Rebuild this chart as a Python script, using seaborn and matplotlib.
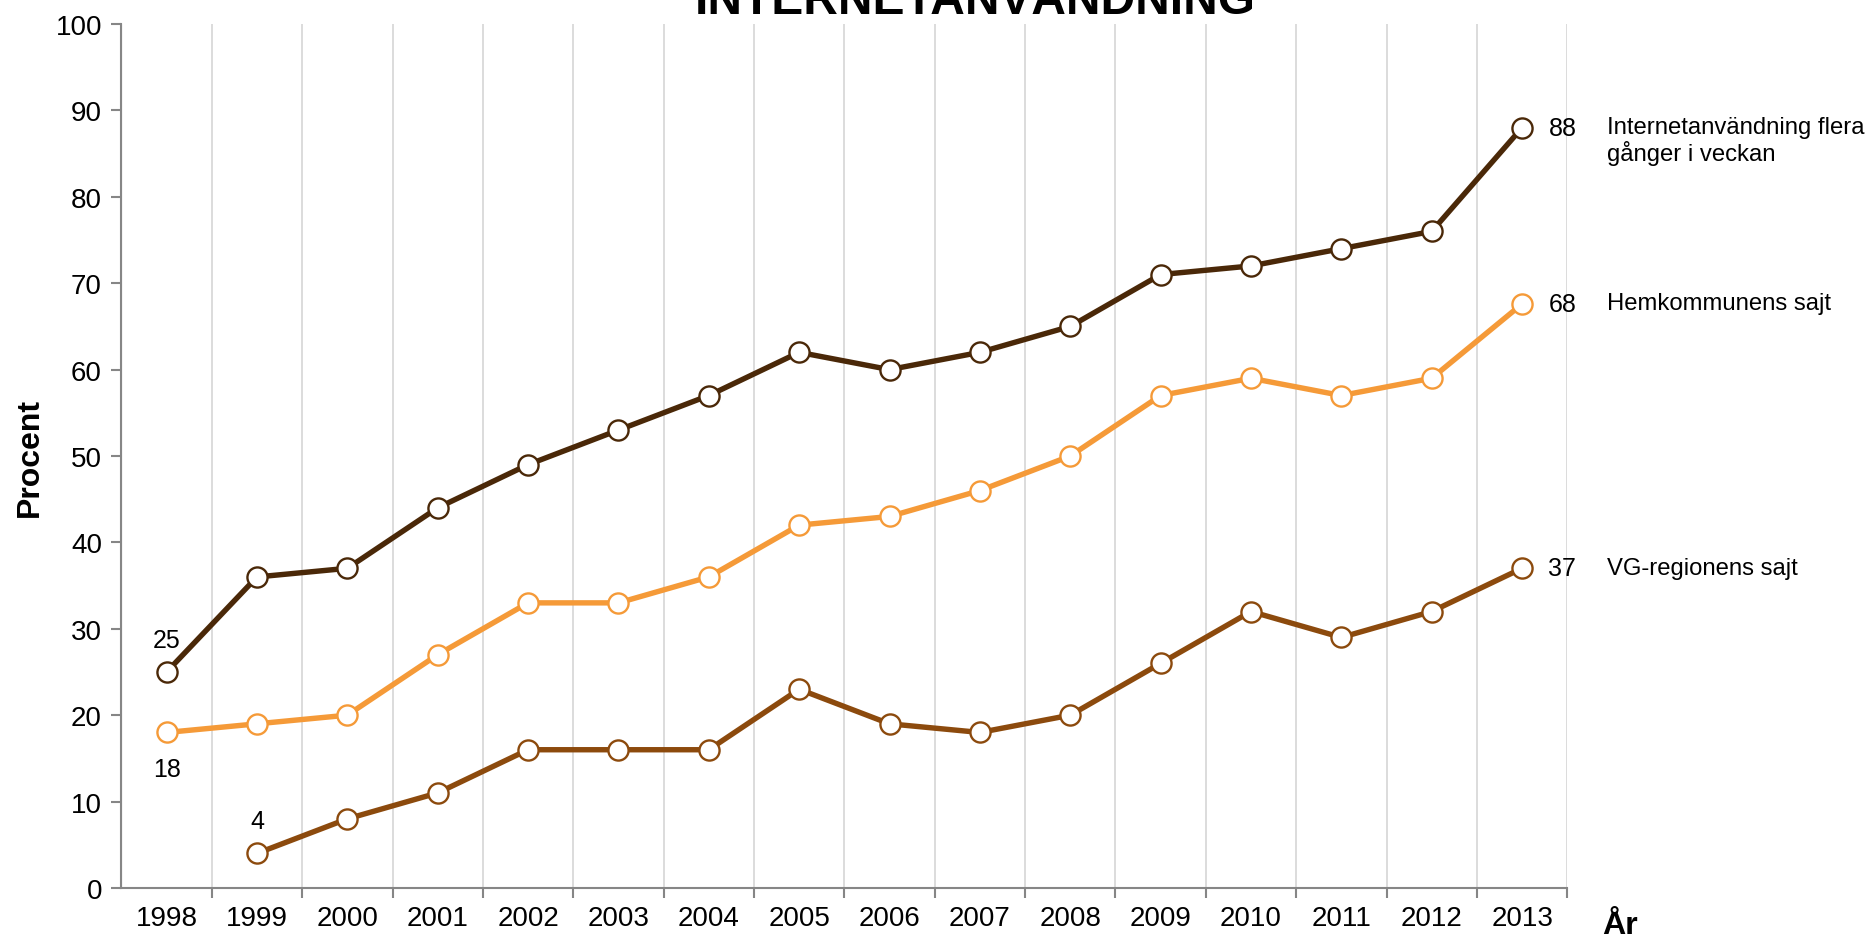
import numpy as np
import pandas as pd
import seaborn as sns
import matplotlib.pyplot as plt
from matplotlib.ticker import MultipleLocator

# Data
years = list(range(1998, 2014))
internet = [25, 36, 37, 44, 49, 53, 57, 62, 60, 62, 65, 71, 72, 74, 76, 88]
hemkommun = [18, 19, 20, 27, 33, 33, 36, 42, 43, 46, 50, 57, 59, 57, 59, 67.6]
vgregion = [np.nan, 4, 8, 11, 16, 16, 16, 23, 19, 18, 20, 26, 32, 29, 32, 37]

series_names = ['Internetanvändning flera\ngånger i veckan', 'Hemkommunens sajt', 'VG-regionens sajt']
series_values = [internet, hemkommun, vgregion]
series_colors = ['#4a2808', '#f59a38', '#8c4a0d']
end_labels = ['88', '68', '37']

sns.set_style('white')
plt.rcParams['font.family'] = ['Liberation Sans', 'DejaVu Sans']
plt.rcParams['text.color'] = 'black'
plt.rcParams['axes.labelcolor'] = 'black'
plt.rcParams['xtick.labelcolor'] = 'black'
plt.rcParams['ytick.labelcolor'] = 'black'

fig = plt.figure(figsize=(18.68, 9.45), dpi=100)
ax = fig.add_axes([0.065, 0.0593, 0.774, 0.9142])

for name, vals, col in zip(series_names, series_values, series_colors):
    df = pd.DataFrame({'ar': years, 'procent': vals}).dropna()
    sns.lineplot(data=df, x='ar', y='procent', ax=ax, color=col, lw=3.9,
                 marker='o', markersize=14.5, markerfacecolor='white',
                 markeredgecolor=col, markeredgewidth=1.7, zorder=3)

ax.set_xlim(1997.5, 2013.5)
ax.set_ylim(0, 100)
ax.yaxis.set_major_locator(MultipleLocator(10))
ax.set_xticks(years)
ax.set_xticklabels([str(y) for y in years])
ax.set_xticks(np.arange(1998.5, 2013.6, 1), minor=True)
ax.grid(False)
ax.grid(True, which='minor', axis='x', color='#d9d9d9', lw=1.3)
ax.tick_params(axis='x', which='major', length=0, pad=12, labelsize=20)
ax.tick_params(axis='x', which='minor', length=7, width=1.5, color='#868686', direction='out', bottom=True)
ax.tick_params(axis='y', length=7, width=1.5, color='#868686', direction='out', left=True, pad=7, labelsize=20)
ax.axvline(1997.5, color='#868686', lw=1.5, zorder=2)
for s in ['top', 'right']:
    ax.spines[s].set_visible(False)
for s in ['left', 'bottom']:
    ax.spines[s].set_color('#868686')
    ax.spines[s].set_linewidth(1.5)

ax.set_xlabel('')
ax.set_ylabel('Procent', fontsize=23, fontweight='bold')
ax.yaxis.set_label_coords(-0.053, 0.5)

# end value labels and series names
for name, vals, lab in zip(series_names, series_values, end_labels):
    ax.annotate(lab, xy=(years[-1], vals[-1]), xytext=(19, 0), textcoords='offset points',
                va='center', ha='left', fontsize=18)
    ax.annotate(name, xy=(years[-1], vals[-1]), xytext=(61, 8.5), textcoords='offset points',
                va='top', ha='left', fontsize=17.2, linespacing=1.1, annotation_clip=False)

# start value labels
ax.annotate('25', xy=(1998, 25), xytext=(0, 23), textcoords='offset points', ha='center', va='center', fontsize=18)
ax.annotate('18', xy=(1998, 18), xytext=(0, -26), textcoords='offset points', ha='center', va='center', fontsize=18)
ax.annotate('4', xy=(1999, 4), xytext=(0, 23), textcoords='offset points', ha='center', va='center', fontsize=18)

fig.text(0.522, 0.985, 'INTERNETANVÄNDNING', ha='center', va='baseline', fontsize=34.5, fontweight='bold')
fig.text(0.867, 0.020, 'År', ha='center', va='center', fontsize=23, fontweight='bold')

fig.savefig('out.png', dpi=100)
